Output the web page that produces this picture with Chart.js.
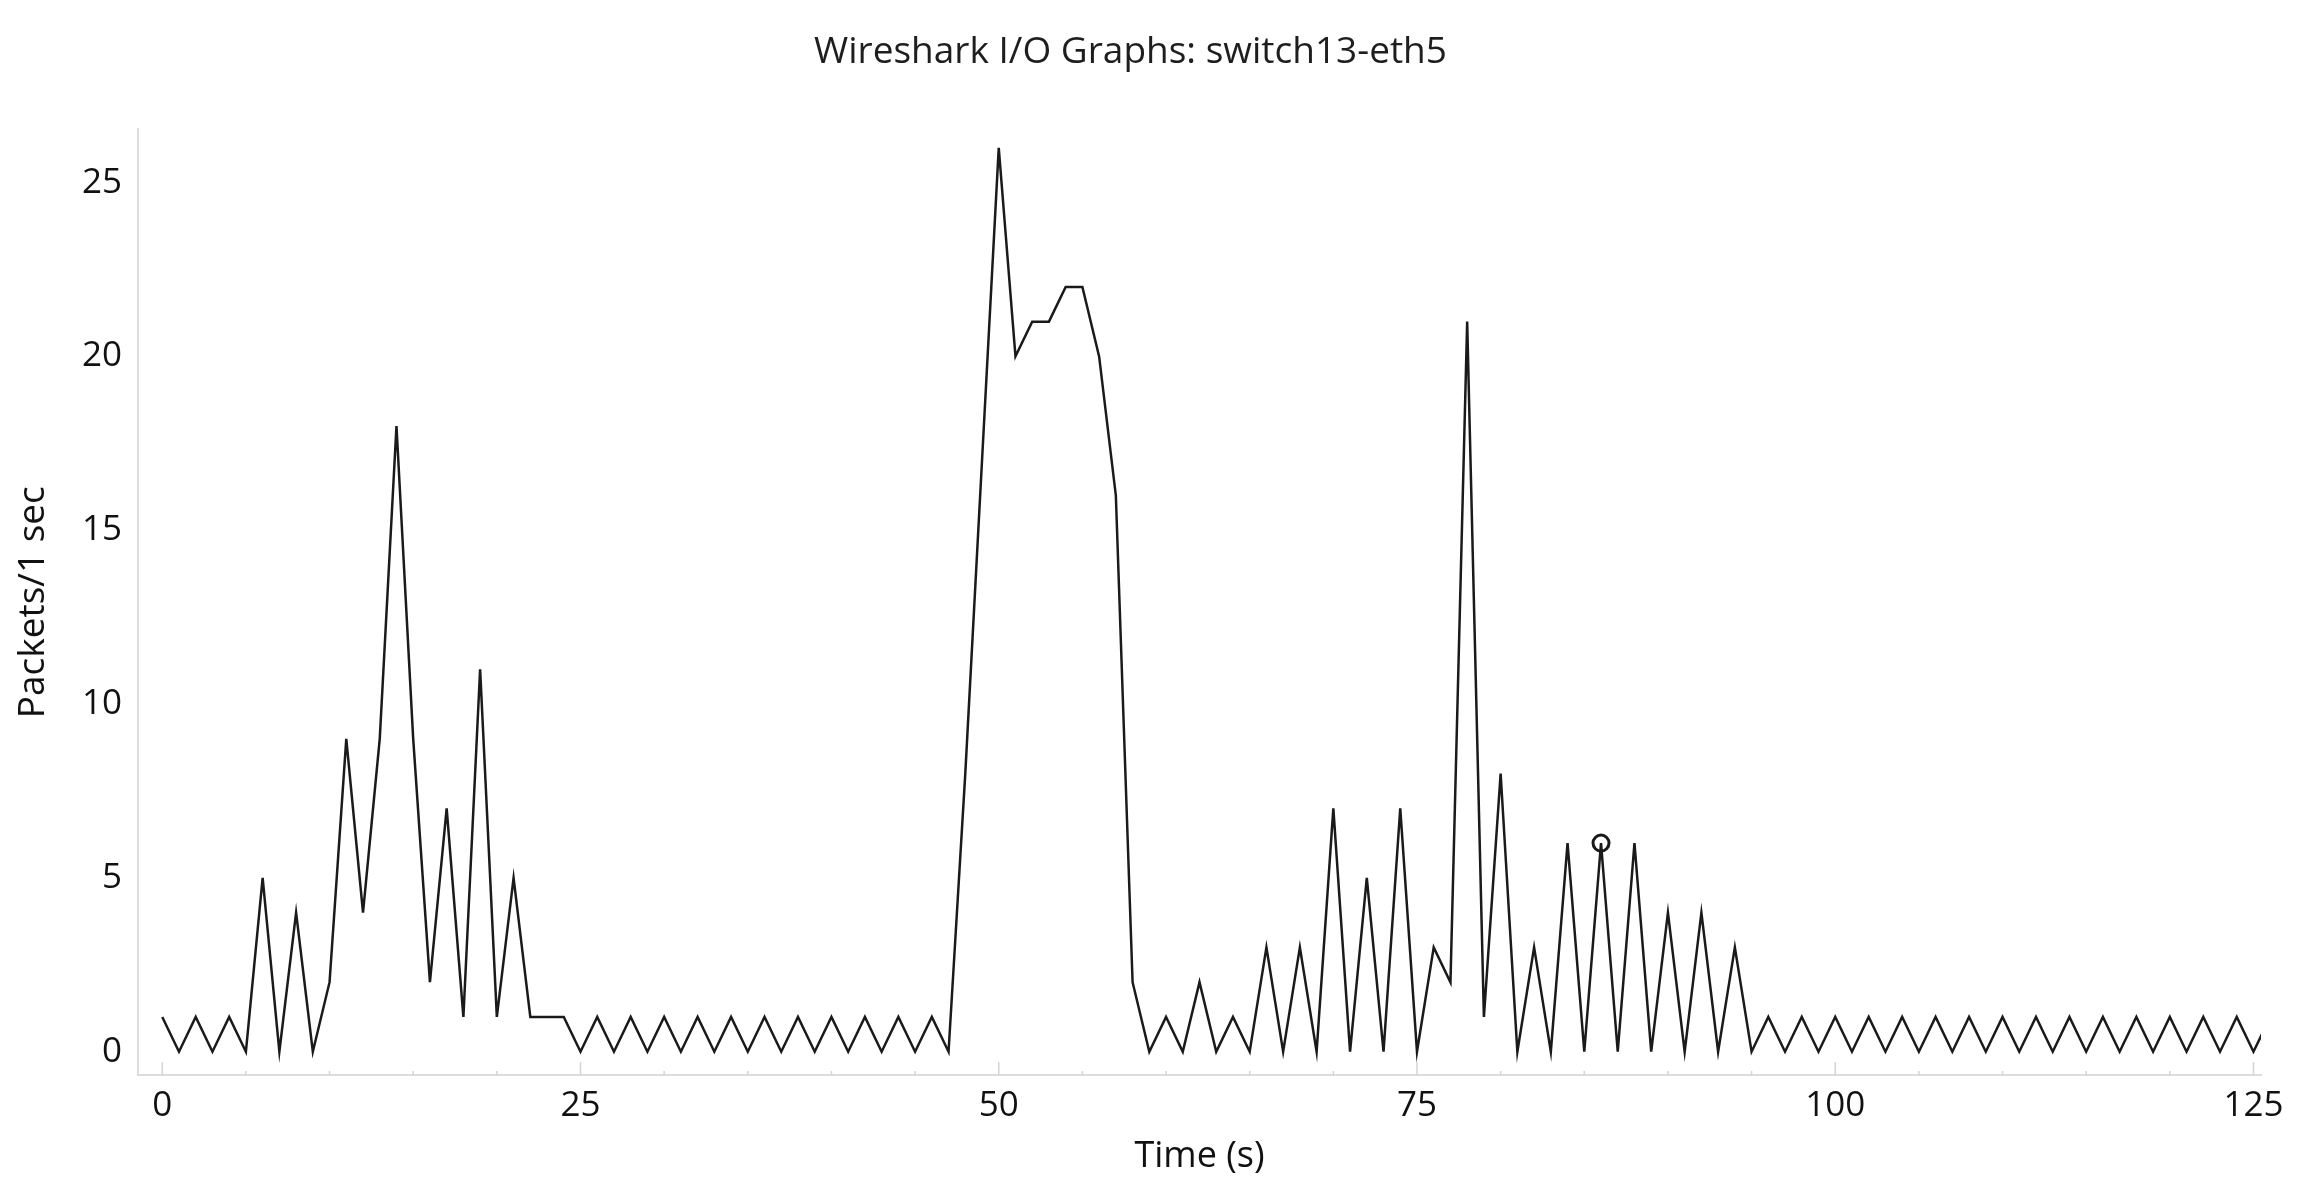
<!DOCTYPE html>
<html>
<head>
<meta charset="utf-8">
<script src="https://cdn.jsdelivr.net/npm/chart.js@4"></script>
<style>
  html, body { margin: 0; padding: 0; background: #fff; }
  #wrap { width: 2306px; height: 1188px; }
</style>
</head>
<body>
<div id="wrap"><canvas id="ioGraph"></canvas></div>
<script>
// interval start (s) and packets counted in that 1 s interval
const seconds = [
  0, 1, 2, 3, 4, 5, 6, 7, 8, 9, 10, 11, 12, 13, 14, 15, 16, 17, 18, 19,
  20, 21, 22, 23, 24, 25, 26, 27, 28, 29, 30, 31, 32, 33, 34, 35, 36, 37, 38, 39,
  40, 41, 42, 43, 44, 45, 46, 47, 48, 49, 50, 51, 52, 53, 54, 55, 56, 57, 58, 59,
  60, 61, 62, 63, 64, 65, 66, 67, 68, 69, 70, 71, 72, 73, 74, 75, 76, 77, 78, 79,
  80, 81, 82, 83, 84, 85, 86, 87, 88, 89, 90, 91, 92, 93, 94, 95, 96, 97, 98, 99,
  100, 101, 102, 103, 104, 105, 106, 107, 108, 109, 110, 111, 112, 113, 114, 115, 116, 117, 118, 119,
  120, 121, 122, 123, 124, 125, 126
];
const packets = [
  1, 0, 1, 0, 1, 0, 5, 0, 4, 0, 2, 9, 4, 9, 18, 9, 2, 7, 1, 11,
  1, 5, 1, 1, 1, 0, 1, 0, 1, 0, 1, 0, 1, 0, 1, 0, 1, 0, 1, 0,
  1, 0, 1, 0, 1, 0, 1, 0, 8, 17, 26, 20, 21, 21, 22, 22, 20, 16, 2, 0,
  1, 0, 2, 0, 1, 0, 3, 0, 3, 0, 7, 0, 5, 0, 7, 0, 3, 2, 21, 1,
  8, 0, 3, 0, 6, 0, 6, 0, 6, 0, 4, 0, 4, 0, 3, 0, 1, 0, 1, 0,
  1, 0, 1, 0, 1, 0, 1, 0, 1, 0, 1, 0, 1, 0, 1, 0, 1, 0, 1, 0,
  1, 0, 1, 0, 1, 0, 1
];
// selected point (circle marker)
const markedSecond = [86];
const markedPackets = [6];

const xTicks = [0, 25, 50, 75, 100, 125];
const yTicks = [0, 5, 10, 15, 20, 25];

const FONT = "'Open Sans', 'Noto Sans', sans-serif";

const lineData = seconds.map((s, i) => ({ x: s, y: packets[i] }));
const markData = markedSecond.map((s, i) => ({ x: s, y: markedPackets[i] }));

// Wireshark style: short tick marks drawn inside the plot
const insideTicks = {
  id: "insideTicks",
  afterDraw: (chart) => {
    const { ctx, scales: { x }, chartArea: { bottom } } = chart;
    ctx.save();
    ctx.strokeStyle = "#d4d4d4";
    ctx.lineWidth = 1.5;
    x.ticks.forEach((t) => {
      const px = x.getPixelForValue(t.value);
      const len = xTicks.includes(t.value) ? 13 : 4;
      ctx.beginPath();
      ctx.moveTo(px, bottom);
      ctx.lineTo(px, bottom - len);
      ctx.stroke();
    });
    ctx.restore();
  },
};

const config = {
  type: "line",
  data: {
    datasets: [
      {
        label: "marked",
        data: markData,
        showLine: false,
        pointRadius: 8,
        pointHoverRadius: 8,
        pointBorderWidth: 3,
        pointBorderColor: "#1a1a1a",
        pointBackgroundColor: "rgba(0,0,0,0)",
      },
      {
        label: "All Packets",
        data: lineData,
        borderColor: "#1a1a1a",
        borderWidth: 2.5,
        tension: 0,
        pointRadius: 0,
        fill: false,
      },
    ],
  },
  options: {
    responsive: true,
    maintainAspectRatio: false,
    animation: false,
    layout: { padding: { left: 0, right: 45, top: 0, bottom: 0 } },
    plugins: {
      legend: { display: false },
      tooltip: { enabled: false },
      title: {
        display: true,
        text: "Wireshark I/O Graphs: switch13-eth5",
        color: "#1e1e1e",
        font: { family: FONT, size: 37, weight: "normal" },
        padding: { top: 30, bottom: 55 },
      },
    },
    scales: {
      x: {
        type: "linear",
        min: -1.45,
        max: 125.45,
        afterFit: (s) => { s.height = 113; },
        afterBuildTicks: (s) => {
          const out = [];
          for (let v = 0; v <= 125; v += 5) out.push({ value: v });
          s.ticks = out;
        },
        ticks: {
          autoSkip: false,
          maxRotation: 0,
          padding: 10,
          color: "#111",
          font: { family: FONT, size: 35 },
          callback: (v) => (xTicks.includes(v) ? String(v) : ""),
        },
        grid: { display: true, drawOnChartArea: false, drawTicks: false },
        border: { display: true, color: "#dcdcdc", width: 2 },
        title: {
          display: true,
          text: "Time (s)",
          color: "#111",
          font: { family: FONT, size: 36 },
          padding: { top: 0, bottom: 10 },
        },
      },
      y: {
        type: "linear",
        min: -0.67,
        max: 26.53,
        afterFit: (s) => { s.width = 138; },
        afterBuildTicks: (s) => {
          s.ticks = yTicks.map((v) => ({ value: v }));
        },
        ticks: {
          padding: 16,
          color: "#111",
          font: { family: FONT, size: 35 },
        },
        grid: { display: true, drawOnChartArea: false, drawTicks: false },
        border: { display: true, color: "#dcdcdc", width: 2 },
        title: {
          display: true,
          text: "Packets/1 sec",
          color: "#111",
          font: { family: FONT, size: 37 },
          padding: { top: 11, bottom: 0 },
        },
      },
    },
  },
  plugins: [insideTicks],
};

const ioChart = new Chart(document.getElementById("ioGraph"), config);
</script>
</body>
</html>
